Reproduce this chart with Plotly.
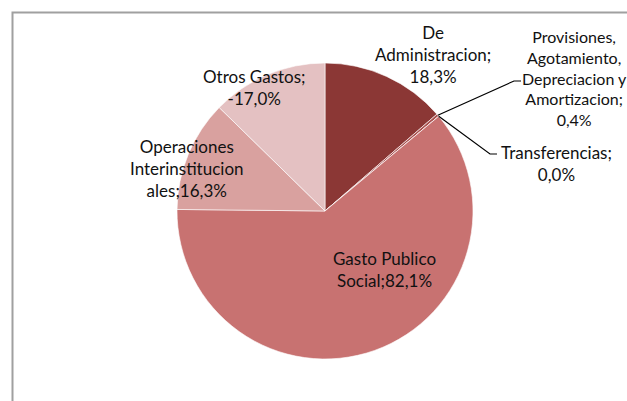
import math
import plotly.graph_objects as go

# ---- data ----
categories = [
    "De Administracion",
    "Provisiones, Agotamiento, Depreciacion y Amortizacion",
    "Transferencias",
    "Gasto Publico Social",
    "Operaciones Interinstitucionales",
    "Otros Gastos",
]
values = [18.3, 0.4, 0.0, 82.1, 16.3, -17.0]
label_texts = [
    "De<br>Administracion;<br>{v}",
    "Provisiones,<br>Agotamiento,<br>Depreciacion y<br>Amortizacion;<br>{v}",
    "Transferencias;<br>{v}",
    "Gasto Publico<br>Social;{v}",
    "Operaciones<br>Interinstitucion<br>ales;{v}",
    "Otros Gastos;<br>{v}",
]

# ---- style / layout ----
W, H = 627, 401
colors = ["#8B3735", "#A9504E", "#B85E5C", "#C87271", "#D9A19F", "#E4C1C2"]
CX, CY, R = 325, 211, 148          # pie centre / radius in pixels
FONT = "Lato, Liberation Sans, sans-serif"
label_size = [17, 16, 17, 17, 17, 17]
# label anchor (pixel centre of text block) per category
label_pos = [(433, 54), (574, 78), (556, 163), (384, 269), (187, 168), (254, 87)]
# leader-line elbow points for outside labels (index -> [(elbow), (end)])
leaders = {1: [(514, 81), (521, 81)], 2: [(490, 154), (497, 154)]}


def px(x):
    return x / W


def py(y):
    return 1 - y / H


def fmt(v):
    return ("%.1f%%" % v).replace(".", ",")


abs_vals = [abs(v) for v in values]
total = sum(abs_vals)

fig = go.Figure(
    go.Pie(
        labels=categories,
        values=abs_vals,
        sort=False,
        direction="clockwise",
        rotation=0,
        marker=dict(colors=colors, line=dict(color="rgba(255,255,255,0.6)", width=1)),
        textinfo="none",
        hoverinfo="label+text",
        hovertext=[fmt(v) for v in values],
        showlegend=False,
        domain=dict(x=[px(CX - R), px(CX + R)], y=[py(CY + R), py(CY - R)]),
    )
)

annotations = []
for i, v in enumerate(values):
    x, y = label_pos[i]
    annotations.append(
        dict(
            x=px(x), y=py(y), xref="paper", yref="paper",
            text=label_texts[i].format(v=fmt(v)),
            showarrow=False, xanchor="center", yanchor="middle",
            align="center",
            font=dict(family=FONT, size=label_size[i], color="#111111"),
        )
    )

shapes = []
# leader lines starting at the slice's mid-angle on the pie edge
cum = 0.0
for i, a in enumerate(abs_vals):
    mid = (cum + a / 2) / total * 2 * math.pi
    cum += a
    if i in leaders:
        sx = CX + R * math.sin(mid)
        sy = CY - R * math.cos(mid)
        pts = [(sx, sy)] + leaders[i]
        path = "M " + " L ".join("%f,%f" % (px(p[0]), py(p[1])) for p in pts)
        shapes.append(dict(type="path", xref="paper", yref="paper", path=path,
                           line=dict(color="black", width=1.2)))

# chart-area frame (cut off at right/bottom)
shapes.append(dict(type="rect", xref="paper", yref="paper",
                   x0=px(12.5), y0=py(12.5), x1=px(W + 20), y1=py(H + 20),
                   line=dict(color="#A0A0A0", width=2), layer="below"))

fig.update_layout(
    width=W, height=H,
    margin=dict(l=0, r=0, t=0, b=0),
    paper_bgcolor="white", plot_bgcolor="white",
    annotations=annotations, shapes=shapes,
)

fig.write_html(
    "out.html",
    config={"displayModeBar": False},
    post_script="document.body.style.margin='0';document.body.style.overflow='hidden';",
)
